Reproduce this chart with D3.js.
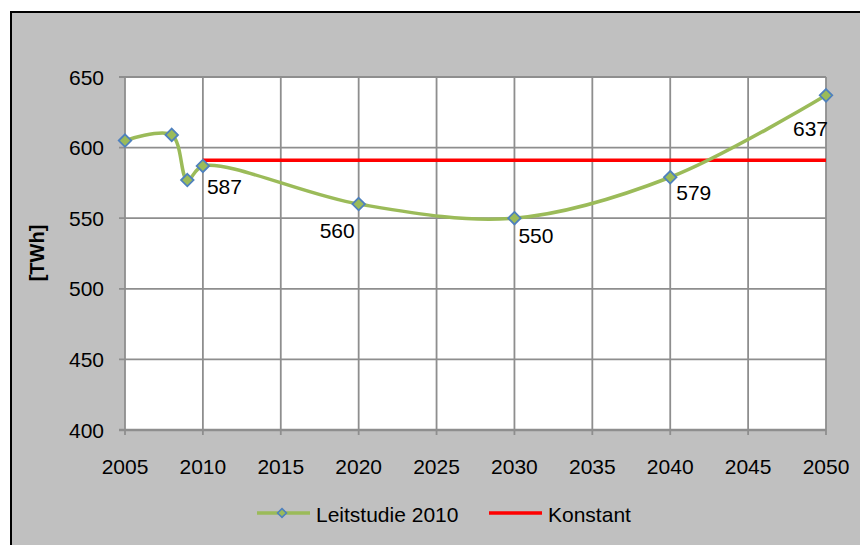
<!DOCTYPE html>
<html>
<head>
<meta charset="utf-8">
<script src="https://cdn.jsdelivr.net/npm/d3@7"></script>
<style>
  body { margin: 0; background: #fff; }
  svg text { font-family: "Liberation Sans", Arial, sans-serif; }
</style>
</head>
<body>
<svg width="860" height="545"></svg>
<script>
// data
var years = [2005, 2008, 2009, 2010, 2020, 2030, 2040, 2050];
var leitstudie = [605, 609, 577, 587, 560, 550, 579, 637];
var labelYears = [2010, 2020, 2030, 2040, 2050];
var konstantYears = [2010, 2050];
var konstant = [591, 591];
var xTicks = [2005, 2010, 2015, 2020, 2025, 2030, 2035, 2040, 2045, 2050];
var yTicks = [400, 450, 500, 550, 600, 650];

function main() {
    var svg = d3.select("svg");
    var green = "#9bbb59", blue = "#4f81bd", red = "#ff0000", grid = "#8e8e8e";

    // chart frame
    svg.append("rect").attr("x", 11).attr("y", 12).attr("width", 860).attr("height", 545)
        .attr("fill", "#c0c0c0").attr("stroke", "#000").attr("stroke-width", 2);

    var left = 125, right = 826, top = 77, bottom = 430;
    var x = d3.scaleLinear().domain([2005, 2050]).range([left, right]);
    var y = d3.scaleLinear().domain([400, 650]).range([bottom, top]);

    svg.append("rect").attr("x", left).attr("y", top)
        .attr("width", right - left).attr("height", bottom - top).attr("fill", "#fff");

    // gridlines
    svg.append("g").selectAll("line").data(xTicks).enter().append("line")
        .attr("x1", d => x(d)).attr("x2", d => x(d))
        .attr("y1", top).attr("y2", bottom + 5)
        .attr("stroke", grid).attr("stroke-width", 1.8);
    svg.append("g").selectAll("line").data(yTicks).enter().append("line")
        .attr("x1", left - 6).attr("x2", right)
        .attr("y1", d => y(d)).attr("y2", d => y(d))
        .attr("stroke", grid).attr("stroke-width", d => d == 400 ? 2.4 : 1.8);

    // axis labels
    svg.append("g").selectAll("text").data(yTicks).enter().append("text")
        .attr("x", 104).attr("y", d => y(d)).attr("dy", "0.36em")
        .attr("text-anchor", "end").attr("font-size", "21px").text(d => d);
    svg.append("g").selectAll("text").data(xTicks).enter().append("text")
        .attr("x", d => x(d)).attr("y", 474)
        .attr("text-anchor", "middle").attr("font-size", "21px").text(d => d);

    svg.append("text")
        .attr("transform", "translate(44,253) rotate(-90)")
        .attr("text-anchor", "middle").attr("font-size", "20px").attr("font-weight", "bold")
        .text("[TWh]");

    // constant line
    var kLine = d3.line().x((d, i) => x(konstantYears[i])).y(d => y(d));
    svg.append("path").attr("d", kLine(konstant))
        .attr("fill", "none").attr("stroke", red).attr("stroke-width", 3.5);

    // smoothed series
    var pts = years.map((yr, i) => ({ year: yr, value: leitstudie[i] }));
    var line = d3.line().x(d => x(d.year)).y(d => y(d.value)).curve(d3.curveCatmullRom.alpha(0.5));
    svg.append("path").attr("d", line(pts))
        .attr("fill", "none").attr("stroke", green).attr("stroke-width", 3.5);

    var diamond = d3.symbol().type(d3.symbolDiamond2).size(100);
    svg.append("g").selectAll("path").data(pts).enter().append("path")
        .attr("d", diamond)
        .attr("transform", d => "translate(" + x(d.year) + "," + y(d.value) + ")")
        .attr("fill", green).attr("stroke", blue).attr("stroke-width", 1.8);

    // data labels (offset per label, like the original)
    var labelOffset = { 2010: [4, 28], 2020: [-39, 34], 2030: [4, 25], 2040: [6, 23], 2050: [-33, 41] };
    svg.append("g").selectAll("text").data(pts.filter(d => labelYears.indexOf(d.year) >= 0))
        .enter().append("text")
        .attr("x", d => x(d.year) + labelOffset[d.year][0])
        .attr("y", d => y(d.value) + labelOffset[d.year][1])
        .attr("font-size", "21px").text(d => d.value);

    // legend
    var lg = svg.append("g");
    lg.append("line").attr("x1", 257).attr("x2", 310).attr("y1", 513).attr("y2", 513)
        .attr("stroke", green).attr("stroke-width", 3.5);
    lg.append("path").attr("d", d3.symbol().type(d3.symbolDiamond2).size(50))
        .attr("transform", "translate(282,513)")
        .attr("fill", green).attr("stroke", blue).attr("stroke-width", 1.6);
    lg.append("text").attr("x", 316).attr("y", 522).attr("font-size", "21px").text("Leitstudie 2010");
    lg.append("line").attr("x1", 489).attr("x2", 542).attr("y1", 513).attr("y2", 513)
        .attr("stroke", red).attr("stroke-width", 3.5);
    lg.append("text").attr("x", 548).attr("y", 522).attr("font-size", "21px").text("Konstant");
}
main();
</script>
</body>
</html>
